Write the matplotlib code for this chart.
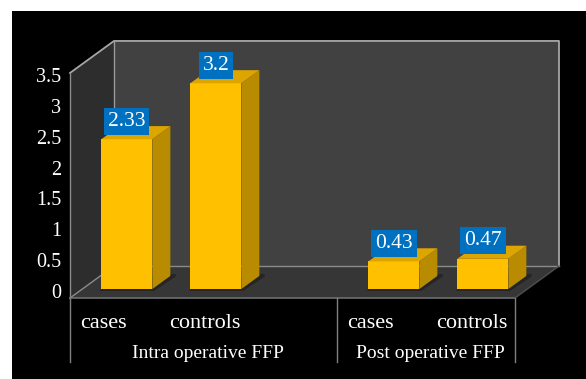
import matplotlib
matplotlib.use("Agg")
import matplotlib.pyplot as plt
from matplotlib.patches import Polygon, Rectangle

# ---- data ----
categories = ["cases", "controls", "", "cases", "controls"]
groups = ["Intra operative FFP", "Post operative FFP"]
group_spans = [(0, 2), (3, 4)]          # category index ranges of each group
bar_positions = [0, 1, 3, 4]
bar_values = [2.33, 3.2, 0.43, 0.47]
bar_labels = ["2.33", "3.2", "0.43", "0.47"]
yticks = [0, 0.5, 1, 1.5, 2, 2.5, 3, 3.5]
ytick_labels = ["0", "0.5", "1", "1.5", "2", "2.5", "3", "3.5"]
ymax = 3.5

# ---- geometry (pixel scale of reference) ----
W, H = 586, 379
PX_X = 89.0      # pixels per category
PX_Y = 64.3      # pixels per value unit
X0_PIX = 114.5   # pixel x of category 0 (front)
Y0_PIX = 298.0   # pixel y of value 0 (front)
DX = 44 / PX_X   # depth vector (x, category units)
DY = 32 / PX_Y   # depth vector (y, value units)
D0, D1 = 0.28, 0.69   # bar depth range
BW = 51 / PX_X

fig = plt.figure(figsize=(W / 100, H / 100), dpi=100)
fig.patch.set_facecolor("white")
ax = fig.add_axes([0, 0, 1, 1])
ax.set_xlim(-X0_PIX / PX_X, (W - X0_PIX) / PX_X)
ax.set_ylim(-(H - Y0_PIX) / PX_Y, Y0_PIX / PX_Y)
ax.axis("off")
ax.add_patch(Rectangle((12 / W, 0), 1 - 12 / W, (H - 11) / H,
                       transform=ax.transAxes, fc="black", ec="none", zorder=0))

xl, xr = -0.5, len(categories) - 0.5
edge = "#a6a6a6"

# side (left) wall
ax.add_patch(Polygon([(xl, 0), (xl + DX, DY), (xl + DX, ymax + DY), (xl, ymax)],
                     closed=True, fc="#2d2d2d", ec="none", zorder=1))
# back wall
ax.add_patch(Polygon([(xl + DX, DY), (xr + DX, DY), (xr + DX, ymax + DY), (xl + DX, ymax + DY)],
                     closed=True, fc="#414141", ec="none", zorder=1))
# floor
ax.add_patch(Polygon([(xl, 0), (xr, 0), (xr + DX, DY), (xl + DX, DY)],
                     closed=True, fc="#363636", ec="none", zorder=1))

# wall edges
ax.plot([xl, xl + DX, xr + DX, xr + DX], [ymax, ymax + DY, ymax + DY, DY], color=edge, lw=1.3, zorder=2)
ax.plot([xl + DX, xl + DX], [DY, ymax + DY], color="#9a9a9a", lw=1.0, zorder=2)
ax.plot([xl + DX, xr + DX], [DY, DY], color="#8a8a8a", lw=1.0, zorder=2)
ax.plot([xl, xl], [0, ymax], color="#8c8c8c", lw=1.0, zorder=2)
ax.plot([xl, xl + DX], [0, DY], color="#8c8c8c", lw=1.0, zorder=2)
ax.plot([xl, xr], [0, 0], color="#6e6e6e", lw=1.2, zorder=2)
ax.plot([xr, xr + DX], [0, DY], color="#505050", lw=1.0, zorder=2)

# category separators
sep_bottom = -1.0
for x in [xl, group_spans[0][1] + 0.5, xr]:
    ax.plot([x, x], [0, sep_bottom], color="#808080", lw=1.0, zorder=2)

# bars
b = D0 * DY
ddx = (D1 - D0) * DX
ddy = (D1 - D0) * DY
for pos, v, lab in zip(bar_positions, bar_values, bar_labels):
    cx = pos + D0 * DX
    x0, x1 = cx - BW / 2, cx + BW / 2
    # soft shadow on floor
    ax.add_patch(Polygon([(x0 - 0.02, b - 0.03), (x1 + 0.02, b - 0.03),
                          (x1 + ddx + 0.06, b + ddy - 0.01), (x1 + ddx + 0.06, b + ddy + 0.03),
                          (x0 + ddx, b + ddy)],
                         closed=True, fc="#1a1a1a", ec="none", alpha=0.6, zorder=3))
    ax.bar(cx, v, bottom=b, width=BW, color="#FFC000", edgecolor="none", zorder=5)
    ax.add_patch(Polygon([(x1, b), (x1 + ddx, b + ddy), (x1 + ddx, b + v + ddy), (x1, b + v)],
                         closed=True, fc="#B88B00", ec="none", zorder=5))
    ax.add_patch(Polygon([(x0, b + v), (x1, b + v), (x1 + ddx, b + v + ddy), (x0 + ddx, b + v + ddy)],
                         closed=True, fc="#DCA500", ec="none", zorder=5))
    ax.text(cx, b + v + 18 / PX_Y, lab, ha="center", va="center", color="white",
            family="Liberation Serif", fontsize=15.5, zorder=7,
            bbox=dict(boxstyle="square,pad=0.18", fc="#0070C0", ec="none"))

# y tick labels (slightly compressed spacing as in the reference)
for t, lab in zip(yticks, ytick_labels):
    ax.text(xl - 9 / PX_X, 0.07 + t * 0.96, lab, ha="right", va="center", color="white",
            family="Liberation Serif", fontsize=14.5, zorder=6)

# category labels (left aligned inside each category slot)
for i, c in enumerate(categories):
    if c:
        ax.text(i - 0.5 + 10 / PX_X, -26 / PX_Y, c, ha="left", va="center", color="white",
                family="Liberation Serif", fontsize=16, zorder=6)
for g, (a, z) in zip(groups, group_spans):
    ax.text((a + z) / 2 + 4 / PX_X, -55 / PX_Y, g,
            ha="center", va="center", color="white",
            family="Liberation Serif", fontsize=14, zorder=6)

fig.savefig("out.png", dpi=100)
